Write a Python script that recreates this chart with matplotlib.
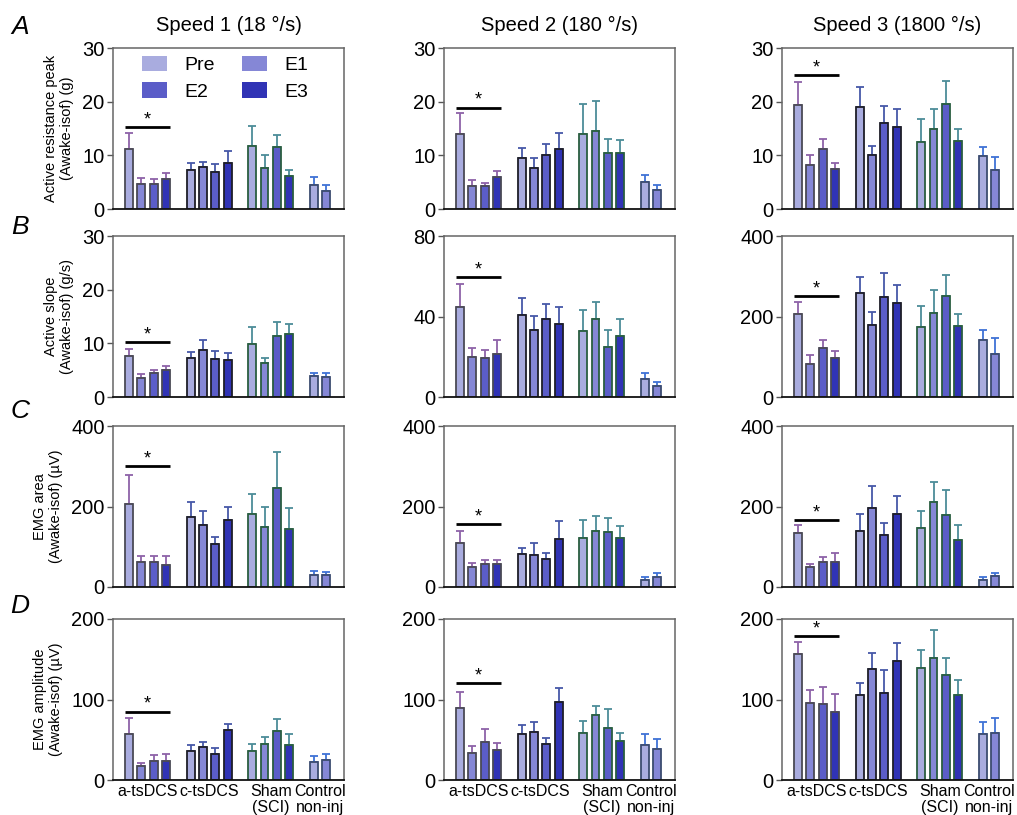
import matplotlib
matplotlib.use("Agg")
import matplotlib.pyplot as plt
from matplotlib.patches import Patch

plt.rcParams['font.family'] = ['Liberation Sans', 'DejaVu Sans']

# ---------------- data ----------------
groups = ["a-tsDCS", "c-tsDCS", "Sham\n(SCI)", "Control\nnon-inj"]
sessions = ["Pre", "E1", "E2", "E3"]
titles = ["Speed 1 (18 °/s)", "Speed 2 (180 °/s)", "Speed 3 (1800 °/s)"]
row_letters = ["A", "B", "C", "D"]
ylabels = ["Active resistance peak\n(Awake-isof) (g)",
           "Active slope\n(Awake-isof) (g/s)",
           "EMG area\n(Awake-isof) (µV)",
           "EMG amplitude\n(Awake-isof) (µV)"]

# Row A: active resistance peak
peak_s1_mean = [[11.1, 4.7, 4.7, 5.6], [7.3, 7.8, 6.9, 8.6], [11.7, 7.7, 11.6, 6.1], [4.5, 3.3]]
peak_s1_err = [[3.1, 1.0, 0.95, 1.05], [1.3, 1.0, 1.5, 2.2], [3.8, 2.35, 2.25, 1.2], [1.4, 1.2]]
peak_s2_mean = [[14.0, 4.35, 4.3, 6.0], [9.45, 7.7, 10.1, 11.1], [14.0, 14.5, 10.4, 10.4], [5.0, 3.6]]
peak_s2_err = [[3.8, 1.05, 0.6, 1.0], [1.85, 1.75, 1.95, 3.1], [5.6, 5.6, 2.6, 2.5], [1.3, 0.9]]
peak_s3_mean = [[19.3, 8.2, 11.2, 7.4], [19.05, 10.0, 15.95, 15.3], [12.55, 14.9, 19.5, 12.7], [9.8, 7.2]]
peak_s3_err = [[4.4, 1.85, 1.85, 1.2], [3.65, 1.65, 3.15, 3.4], [4.25, 3.65, 4.4, 2.3], [1.7, 2.5]]

# Row B: active slope
slope_s1_mean = [[7.7, 3.6, 4.5, 5.0], [7.2, 8.8, 7.1, 6.85], [9.8, 6.3, 11.4, 11.75], [4.0, 3.75]]
slope_s1_err = [[1.25, 0.65, 0.6, 0.8], [1.2, 1.8, 1.4, 1.3], [3.2, 0.9, 2.5, 1.85], [0.45, 0.75]]
slope_s2_mean = [[44.7, 19.7, 19.4, 21.5], [40.9, 33.4, 38.6, 36.3], [32.6, 38.6, 25.0, 30.3], [9.1, 5.5]]
slope_s2_err = [[11.3, 4.5, 4.1, 7.0], [8.3, 7.0, 7.8, 8.4], [10.6, 8.4, 8.4, 8.3], [3.0, 2.1]]
slope_s3_mean = [[207, 81, 122, 98], [258, 180, 248, 234], [175, 208, 250, 176], [142, 106]]
slope_s3_err = [[28, 23, 20, 17], [41, 32, 60, 45], [52, 58, 54, 29], [24, 40]]

# Row C: EMG area
area_s1_mean = [[207, 61, 63, 54], [173, 153, 108, 166], [181, 148, 246, 143], [31, 30]]
area_s1_err = [[71, 15, 13, 24], [38, 37, 16, 34], [49, 50, 90, 54], [9, 8]]
area_s2_mean = [[110, 50, 57, 56], [81, 80, 69, 120], [122, 138, 136, 121], [18, 25]]
area_s2_err = [[30, 9, 11, 12], [16, 30, 15, 43], [44, 38, 36, 31], [6, 9]]
area_s3_mean = [[135, 50, 62, 62], [140, 197, 130, 181], [146, 210, 179, 116], [18, 28]]
area_s3_err = [[20, 7, 12, 22], [42, 53, 30, 44], [42, 52, 62, 38], [7, 7]]

# Row D: EMG amplitude
amp_s1_mean = [[57, 17.5, 24, 24], [36, 41, 32, 62], [35.5, 44.5, 61, 44], [22, 24.5]]
amp_s1_err = [[20, 4, 7.5, 8], [7.5, 6, 8, 8], [9, 9, 15, 13], [8, 7.5]]
amp_s2_mean = [[89, 33, 47, 37], [57, 60, 45, 96.5], [59, 81, 65, 49], [43, 38.5]]
amp_s2_err = [[20, 9, 16, 9.5], [11, 12, 7, 18], [14, 11, 23, 10], [14, 12.5]]
amp_s3_mean = [[156, 96, 94.5, 84], [105, 138, 108, 148], [139.5, 152, 131, 105.5], [57, 58.5]]
amp_s3_err = [[15, 16, 21, 23], [15, 20, 29, 22], [22.5, 34, 21, 19], [15, 18]]

# significance bar heights (a-tsDCS group)
star_y = [[15.3, 18.9, 24.9], [10.2, 59.6, 251], [301, 155.7, 167.4], [85, 120.6, 178.7]]

# y-axis ticks per panel
yticks = [[[0, 10, 20, 30]] * 3,
          [[0, 10, 20, 30], [0, 40, 80], [0, 200, 400]],
          [[0, 200, 400]] * 3,
          [[0, 100, 200]] * 3]

means = [[peak_s1_mean, peak_s2_mean, peak_s3_mean],
         [slope_s1_mean, slope_s2_mean, slope_s3_mean],
         [area_s1_mean, area_s2_mean, area_s3_mean],
         [amp_s1_mean, amp_s2_mean, amp_s3_mean]]
errs = [[peak_s1_err, peak_s2_err, peak_s3_err],
        [slope_s1_err, slope_s2_err, slope_s3_err],
        [area_s1_err, area_s2_err, area_s3_err],
        [amp_s1_err, amp_s2_err, amp_s3_err]]

# ---------------- style ----------------
bar_colors = ['#a9acdf', '#8587d6', '#5b5dc8', '#3033b5']
edge_colors = ['#4a4a55', '#1e1e28', '#2a5e40', '#3c4c70']
err_colors = ['#8e62a8', '#4658a8', '#4c8c98', '#3f72d6']
group_start = [0, 5, 10, 15]

W, H = 1017, 815
fig = plt.figure(figsize=(W / 100, H / 100), dpi=100)

col_left = [113, 444, 782]
ax_w = 231
row_bottom = [209, 397, 587, 780]
ax_h = 161

for r in range(4):
    for c in range(3):
        ax = fig.add_axes([col_left[c] / W, 1 - row_bottom[r] / H, ax_w / W, ax_h / H])
        m = means[r][c]
        e = errs[r][c]
        for g in range(4):
            for s in range(len(m[g])):
                x = group_start[g] + s
                ax.bar(x, m[g][s], width=0.64, color=bar_colors[s],
                       edgecolor=edge_colors[g], linewidth=1.3, zorder=2)
                ax.errorbar(x, m[g][s], yerr=[[0], [e[g][s]]], fmt='none',
                            ecolor=err_colors[g], elinewidth=1.3, capsize=3,
                            capthick=1.3, zorder=1)
        yt = yticks[r][c]
        ax.set_ylim(0, yt[-1])
        ax.set_yticks(yt)
        ax.set_xlim(-1.3, 17.45)
        ax.set_xticks([group_start[g] + (1.5 if g < 3 else 0.5) for g in range(4)])
        if r == 3:
            ax.set_xticklabels(groups, fontsize=11.5, linespacing=1.05)
        else:
            ax.set_xticklabels([])
        ax.tick_params(axis='x', length=0, pad=3)
        ax.tick_params(axis='y', length=4, width=1, labelsize=14.5, pad=2, color='#555555')
        for side in ['top', 'left', 'right']:
            ax.spines[side].set_color('#666666')
            ax.spines[side].set_linewidth(1.1)
        ax.spines['bottom'].set_color('#111111')
        ax.spines['bottom'].set_linewidth(1.3)
        # significance line
        sy = star_y[r][c]
        ax.plot([-0.35, 3.35], [sy, sy], color='black', lw=2, solid_capstyle='butt', zorder=3)
        ax.annotate('*', xy=(1.5, sy), xytext=(0, -1), textcoords='offset points',
                    ha='center', va='bottom', fontsize=13)
        if r == 0:
            ax.set_title(titles[c], fontsize=14.5, pad=12)
        if c == 0:
            ax.set_ylabel(ylabels[r], fontsize=10.5, labelpad=6, linespacing=1.15)
        if r == 0 and c == 0:
            handles = [Patch(facecolor=bar_colors[i], edgecolor='none') for i in [0, 2, 1, 3]]
            labels = [sessions[i] for i in [0, 2, 1, 3]]
            ax.legend(handles, labels, ncol=2, loc='upper left', bbox_to_anchor=(0.09, 1.0),
                      frameon=False, fontsize=14, handlelength=1.3, handleheight=0.85,
                      handletextpad=0.9, columnspacing=1.4, labelspacing=0.4,
                      borderaxespad=0)

letter_y = [27, 227, 411, 606]
for r in range(4):
    fig.text(20 / W, 1 - letter_y[r] / H, row_letters[r], fontsize=19, style='italic',
             ha='center', va='center')

fig.savefig('out.png', dpi=100)
